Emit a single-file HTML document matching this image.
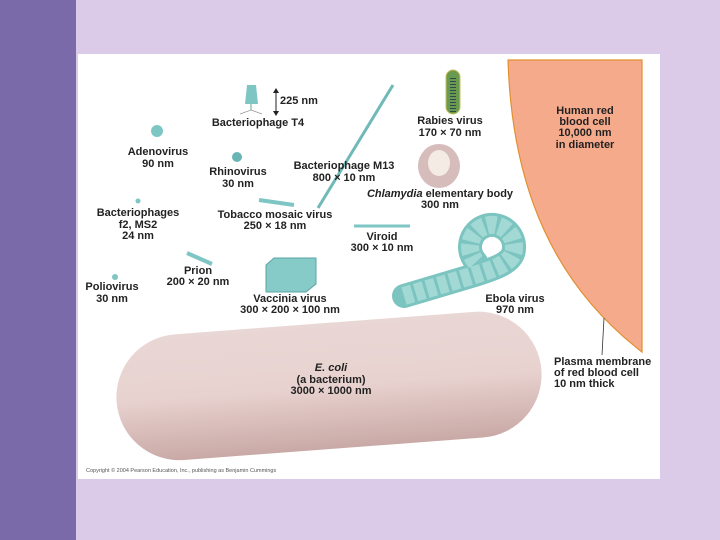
<!DOCTYPE html>
<html><head><style>
body{margin:0;width:720px;height:540px;overflow:hidden;background:#dccbe8;font-family:"Liberation Sans",sans-serif;position:relative}
.strip{position:absolute;left:0;top:0;width:76px;height:540px;background:#7b6aa9}
.panel{position:absolute;left:78px;top:54px;width:582px;height:425px;background:#fff}
svg{position:absolute;left:0;top:0}
text{font-family:"Liberation Sans",sans-serif;font-weight:bold;font-size:11px;fill:#222}
</style></head><body>
<div class="strip"></div><div class="panel"></div>
<svg width="720" height="540">
<defs><linearGradient id="ec" x1="0" y1="0" x2="0" y2="1"><stop offset="0" stop-color="#e9d7d5"/><stop offset="0.5" stop-color="#e8d2cf"/><stop offset="1" stop-color="#c9a9a6"/></linearGradient></defs>
<path d="M508,60 L642,60 L642,352 C555,285 512,190 508,60 Z" fill="#f6aa8c" stroke="#e09030" stroke-width="1.2"/>
<line x1="604" y1="318" x2="602" y2="355" stroke="#333" stroke-width="0.8"/>
<g transform="rotate(-4.3 328 386)"><rect x="116" y="323" width="426" height="126" rx="63" fill="url(#ec)"/></g>
<path d="M404,296 L468,277 C498,268 514,262 514,248 A22,22 0 1 0 476,262" fill="none" stroke="#7cc4c0" stroke-width="24" stroke-linecap="round"/>
<path d="M404,296 L468,277 C498,268 514,262 514,248 A22,22 0 1 0 476,262" fill="none" stroke="#a3d9d5" stroke-width="18" stroke-dasharray="9 3"/>
<line x1="318" y1="208" x2="393" y2="85" stroke="#6fb9b8" stroke-width="3"/>
<rect x="446" y="70" width="14" height="44" rx="7" fill="#6a9a50" stroke="#c9c060"/>
<line x1="453" y1="78" x2="453" y2="112" stroke="#2d4a50" stroke-width="6" stroke-dasharray="1 2"/>
<ellipse cx="439" cy="166" rx="21" ry="22" fill="#d7bcbc"/><ellipse cx="439" cy="163" rx="11" ry="13" fill="#f4ebe4"/>
<line x1="259" y1="200" x2="294" y2="205" stroke="#7ec6c4" stroke-width="4"/>
<line x1="354" y1="226" x2="410" y2="226" stroke="#7ec6c4" stroke-width="3"/>
<line x1="187" y1="253" x2="212" y2="264" stroke="#7ec6c4" stroke-width="4"/>
<path d="M266,265 L274,258 L316,258 L316,284 L306,292 L266,292 Z" fill="#86cbc8" stroke="#5aa5a3"/>
<path d="M247,85 L256,85 L258,104 L245,104 Z" fill="#7ec6c4"/><line x1="251" y1="104" x2="251" y2="110" stroke="#5a9"/>
<path d="M240,114 L251,110 L262,114" fill="none" stroke="#999" stroke-width="0.8"/>
<line x1="276" y1="90" x2="276" y2="114" stroke="#222"/><path d="M273,93 L276,88 L279,93 M273,111 L276,116 L279,111" fill="#222"/>
<circle cx="157" cy="131" r="6" fill="#7ec6c4"/><circle cx="237" cy="157" r="5" fill="#6ab4b6"/>
<circle cx="138" cy="201" r="2.5" fill="#7ec6c4"/><circle cx="115" cy="277" r="3" fill="#7ec6c4"/>
<g text-anchor="middle">
<text x="258" y="126">Bacteriophage T4</text>
<text x="158" y="155">Adenovirus</text><text x="158" y="167">90 nm</text>
<text x="238" y="175">Rhinovirus</text><text x="238" y="187">30 nm</text>
<text x="344" y="169">Bacteriophage M13</text><text x="344" y="181">800 × 10 nm</text>
<text x="450" y="124">Rabies virus</text><text x="450" y="136">170 × 70 nm</text>
<text x="585" y="114">Human red</text><text x="585" y="125">blood cell</text><text x="585" y="136">10,000 nm</text><text x="585" y="148">in diameter</text>
<text x="440" y="197"><tspan font-style="italic">Chlamydia</tspan> elementary body</text><text x="440" y="208">300 nm</text>
<text x="138" y="216">Bacteriophages</text><text x="138" y="228">f2, MS2</text><text x="138" y="239">24 nm</text>
<text x="275" y="218">Tobacco mosaic virus</text><text x="275" y="229">250 × 18 nm</text>
<text x="382" y="240">Viroid</text><text x="382" y="251">300 × 10 nm</text>
<text x="198" y="274">Prion</text><text x="198" y="285">200 × 20 nm</text>
<text x="112" y="290">Poliovirus</text><text x="112" y="302">30 nm</text>
<text x="290" y="302">Vaccinia virus</text><text x="290" y="313">300 × 200 × 100 nm</text>
<text x="515" y="302">Ebola virus</text><text x="515" y="313">970 nm</text>
<text x="331" y="371" font-style="italic">E. coli</text><text x="331" y="383">(a bacterium)</text><text x="331" y="394">3000 × 1000 nm</text>
</g>
<text x="280" y="104">225 nm</text>
<text x="554" y="365">Plasma membrane</text><text x="554" y="376">of red blood cell</text><text x="554" y="387">10 nm thick</text>
<text x="86" y="472" style="font-size:5.5px;font-weight:normal;fill:#555">Copyright © 2004 Pearson Education, Inc., publishing as Benjamin Cummings</text>
</svg>
</body></html>
